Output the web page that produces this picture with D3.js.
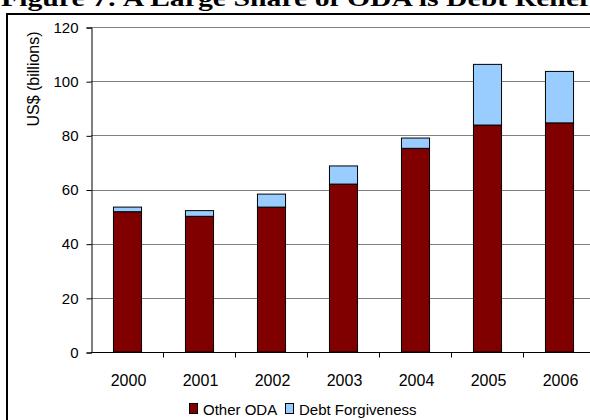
<!DOCTYPE html>
<html>
<head>
<meta charset="utf-8">
<script src="https://cdn.jsdelivr.net/npm/d3@7"></script>
<style>
  body { margin: 0; background: #fff; }
  svg { display: block; }
</style>
</head>
<body>
<div id="chart"></div>
<script>
// data
var years = ["2000", "2001", "2002", "2003", "2004", "2005", "2006"];
var otherODA = [51.8, 50.1, 53.5, 62.0, 75.2, 83.8, 84.6];
var debtForgiveness = [1.7, 2.1, 4.8, 6.7, 3.8, 22.4, 19.0];
var yTicks = [0, 20, 40, 60, 80, 100, 120];
var seriesNames = ["Other ODA", "Debt Forgiveness"];
var seriesColors = ["#800000", "#99CCFF"];

function drawChart() {
  var width = 590, height = 420;
  var plotLeft = 91, plotRight = 595, plotTop = 27, plotBottom = 352;
  var sans = "Liberation Sans, Arial, sans-serif";

  var svg = d3.select("#chart").append("svg")
    .attr("width", width)
    .attr("height", height);

  // title, clipped at top like the original page crop
  svg.append("text")
    .attr("x", 1)
    .attr("y", 6)
    .attr("font-family", "Liberation Serif, Times New Roman, serif")
    .attr("font-weight", "bold")
    .attr("font-size", 24)
    .attr("textLength", 588)
    .attr("lengthAdjust", "spacingAndGlyphs")
    .text("Figure 7: A Large Share of ODA is Debt Relief");

  // outer frame (left and top edges; the rest is off the page)
  svg.append("path")
    .attr("d", "M7," + height + "V14H" + width)
    .attr("fill", "none")
    .attr("stroke", "#000")
    .attr("stroke-width", 2);

  var x = d3.scaleBand()
    .domain(years)
    .range([plotLeft, plotRight])
    .paddingInner(0.61)
    .paddingOuter(0.305);

  var y = d3.scaleLinear()
    .domain([0, 120])
    .range([plotBottom, plotTop]);

  // gridlines
  svg.append("g").selectAll("line")
    .data(yTicks.filter(function(d) { return d > 0; }))
    .enter().append("line")
    .attr("x1", plotLeft).attr("x2", plotRight)
    .attr("y1", function(d) { return Math.round(y(d)) + 0.5; })
    .attr("y2", function(d) { return Math.round(y(d)) + 0.5; })
    .attr("stroke", "#808080")
    .attr("stroke-width", 1);

  // y axis
  var yAxis = svg.append("g")
    .attr("transform", "translate(" + (plotLeft + 0.5) + ",0.5)")
    .call(d3.axisLeft(y).tickValues(yTicks).tickSize(5).tickPadding(8));
  yAxis.selectAll("text")
    .attr("font-family", sans)
    .attr("font-size", 15)
    .attr("fill", "#000");
  yAxis.selectAll("line, path").attr("stroke", "#000");

  // y axis title
  svg.append("text")
    .attr("transform", "translate(39,79) rotate(-90)")
    .attr("text-anchor", "middle")
    .attr("font-family", sans)
    .attr("font-size", 16)
    .text("US$ (billions)");

  // stacked bars
  var rows = years.map(function(yr, i) {
    return { year: yr, other: otherODA[i], debt: debtForgiveness[i] };
  });
  var layers = d3.stack().keys(["other", "debt"])(rows);

  svg.append("g").selectAll("g")
    .data(layers)
    .enter().append("g")
    .attr("fill", function(d, i) { return seriesColors[i]; })
    .selectAll("rect")
    .data(function(d) { return d; })
    .enter().append("rect")
    .attr("x", function(d) { return x(d.data.year) + 0.5; })
    .attr("y", function(d) { return y(d[1]); })
    .attr("width", x.bandwidth())
    .attr("height", function(d) { return y(d[0]) - y(d[1]); })
    .attr("stroke", "#000")
    .attr("stroke-width", 1);

  // x axis
  var xAxis = svg.append("g")
    .attr("transform", "translate(0," + (plotBottom + 0.5) + ")");
  xAxis.append("line")
    .attr("x1", plotLeft).attr("x2", plotRight)
    .attr("stroke", "#000");
  xAxis.selectAll("line.tk")
    .data(years)
    .enter().append("line")
    .attr("class", "tk")
    .attr("x1", function(d) { return Math.round(x(d) + x.bandwidth() / 2 + x.step() / 2) + 0.5; })
    .attr("x2", function(d) { return Math.round(x(d) + x.bandwidth() / 2 + x.step() / 2) + 0.5; })
    .attr("y1", 0).attr("y2", 5)
    .attr("stroke", "#000");
  xAxis.selectAll("text")
    .data(years)
    .enter().append("text")
    .attr("x", function(d) { return x(d) + x.bandwidth() / 2 + 1.5; })
    .attr("y", 33.5)
    .attr("text-anchor", "middle")
    .attr("font-family", sans)
    .attr("font-size", 16)
    .text(function(d) { return d; });

  // legend
  var legendPos = [189, 285];
  var legend = svg.append("g");
  legend.selectAll("rect")
    .data(seriesNames)
    .enter().append("rect")
    .attr("x", function(d, i) { return legendPos[i] + 0.5; })
    .attr("y", 403.5)
    .attr("width", 8).attr("height", 10)
    .attr("fill", function(d, i) { return seriesColors[i]; })
    .attr("stroke", "#000");
  legend.selectAll("text")
    .data(seriesNames)
    .enter().append("text")
    .attr("x", function(d, i) { return legendPos[i] + 14; })
    .attr("y", 414.5)
    .attr("font-family", sans)
    .attr("font-size", 15)
    .text(function(d) { return d; });
}

drawChart();
</script>
</body>
</html>
